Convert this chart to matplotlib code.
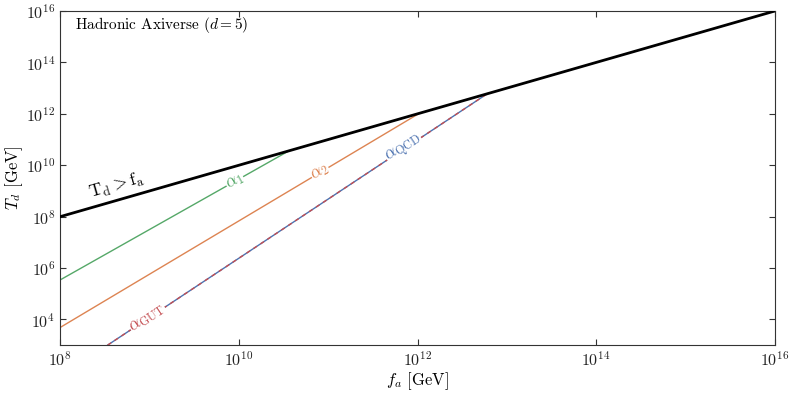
import math

import matplotlib
matplotlib.use("Agg")
import matplotlib.pyplot as plt

# values (log-log straight segments)
fa_bound = [1e8, 1e16]
Td_bound = [1e8, 1e16]

fa_a1 = [1e8, 10**10.56]
Td_a1 = [10**5.54, 10**10.56]

fa_a2 = [1e8, 10**12.02]
Td_a2 = [10**3.69, 10**12.02]

fa_qcd = [10**8.53, 10**12.78]
Td_qcd = [1e3, 10**12.78]

fa_gut = [10**8.53, 10**12.78]
Td_gut = [1e3, 10**12.78]

plt.rcParams["font.family"] = "serif"
plt.rcParams["font.serif"] = ["cmr10", "DejaVu Serif"]
plt.rcParams["mathtext.fontset"] = "cm"
plt.rcParams["axes.formatter.use_mathtext"] = True
plt.rcParams["axes.unicode_minus"] = False

fig = plt.figure(figsize=(7.93, 3.94), dpi=100)
ax = fig.add_axes([0.076, 0.124, 0.901, 0.848])
ax.set_xscale("log"); ax.set_yscale("log")
ax.set_xlim(1e8, 1e16); ax.set_ylim(1e3, 1e16)

ax.plot(fa_bound, Td_bound, color="black", lw=2, zorder=4)
ax.plot(fa_a1, Td_a1, color="#55a868", lw=1)
ax.plot(fa_a2, Td_a2, color="#dd8452", lw=1)
ax.plot(fa_qcd, Td_qcd, color="#4c72b0", lw=1)
ax.plot(fa_gut, Td_gut, color="#c44e52", lw=1, dashes=(3, 3))


def seg_angle(fx, fy):
    p0 = ax.transData.transform((fx[0], fy[0]))
    p1 = ax.transData.transform((fx[1], fy[1]))
    return math.degrees(math.atan2(p1[1] - p0[1], p1[0] - p0[0]))


def inline_label(fx, fy, logx, text, color):
    # put a label on a straight log-log segment, rotated with it
    lx0, lx1 = math.log10(fx[0]), math.log10(fx[1])
    ly0, ly1 = math.log10(fy[0]), math.log10(fy[1])
    ly = ly0 + (ly1 - ly0) * (logx - lx0) / (lx1 - lx0)
    ax.text(10**logx, 10**ly, text, color=color, fontsize=12.5,
            rotation=seg_angle(fx, fy), rotation_mode="anchor",
            ha="center", va="center", zorder=5,
            bbox=dict(facecolor="white", edgecolor="none", pad=0.3))


inline_label(fa_a1, Td_a1, 9.955, r"$\alpha_1$", "#55a868")
inline_label(fa_a2, Td_a2, 10.91, r"$\alpha_2$", "#dd8452")
inline_label(fa_qcd, Td_qcd, 11.85, r"$\alpha_{\rm QCD}$", "#4c72b0")
inline_label(fa_gut, Td_gut, 8.98, r"$\alpha_{\rm GUT}$", "#c44e52")

ax.text(10**8.63, 10**9.2, r"$\mathrm{T_d > f_a}$", fontsize=13,
        rotation=seg_angle(fa_bound, Td_bound), rotation_mode="anchor",
        ha="center", va="center")

ax.text(0.02, 0.958, r"Hadronic Axiverse ($d=5$)", transform=ax.transAxes,
        fontsize=11, ha="left", va="center")

ax.set_xticks([1e8, 1e10, 1e12, 1e14, 1e16])
ax.set_yticks([1e4, 1e6, 1e8, 1e10, 1e12, 1e14, 1e16])
ax.minorticks_off()
ax.tick_params(direction="in", top=True, right=True, labelsize=11.5,
               length=4, colors="#333333", labelcolor="#222222")
for s in ax.spines.values():
    s.set_color("#333333")
ax.set_xlabel(r"$f_a$ [GeV]", fontsize=12, labelpad=1)
ax.set_ylabel(r"$T_d$ [GeV]", fontsize=12, labelpad=1)

plt.savefig("out.png", dpi=100)
